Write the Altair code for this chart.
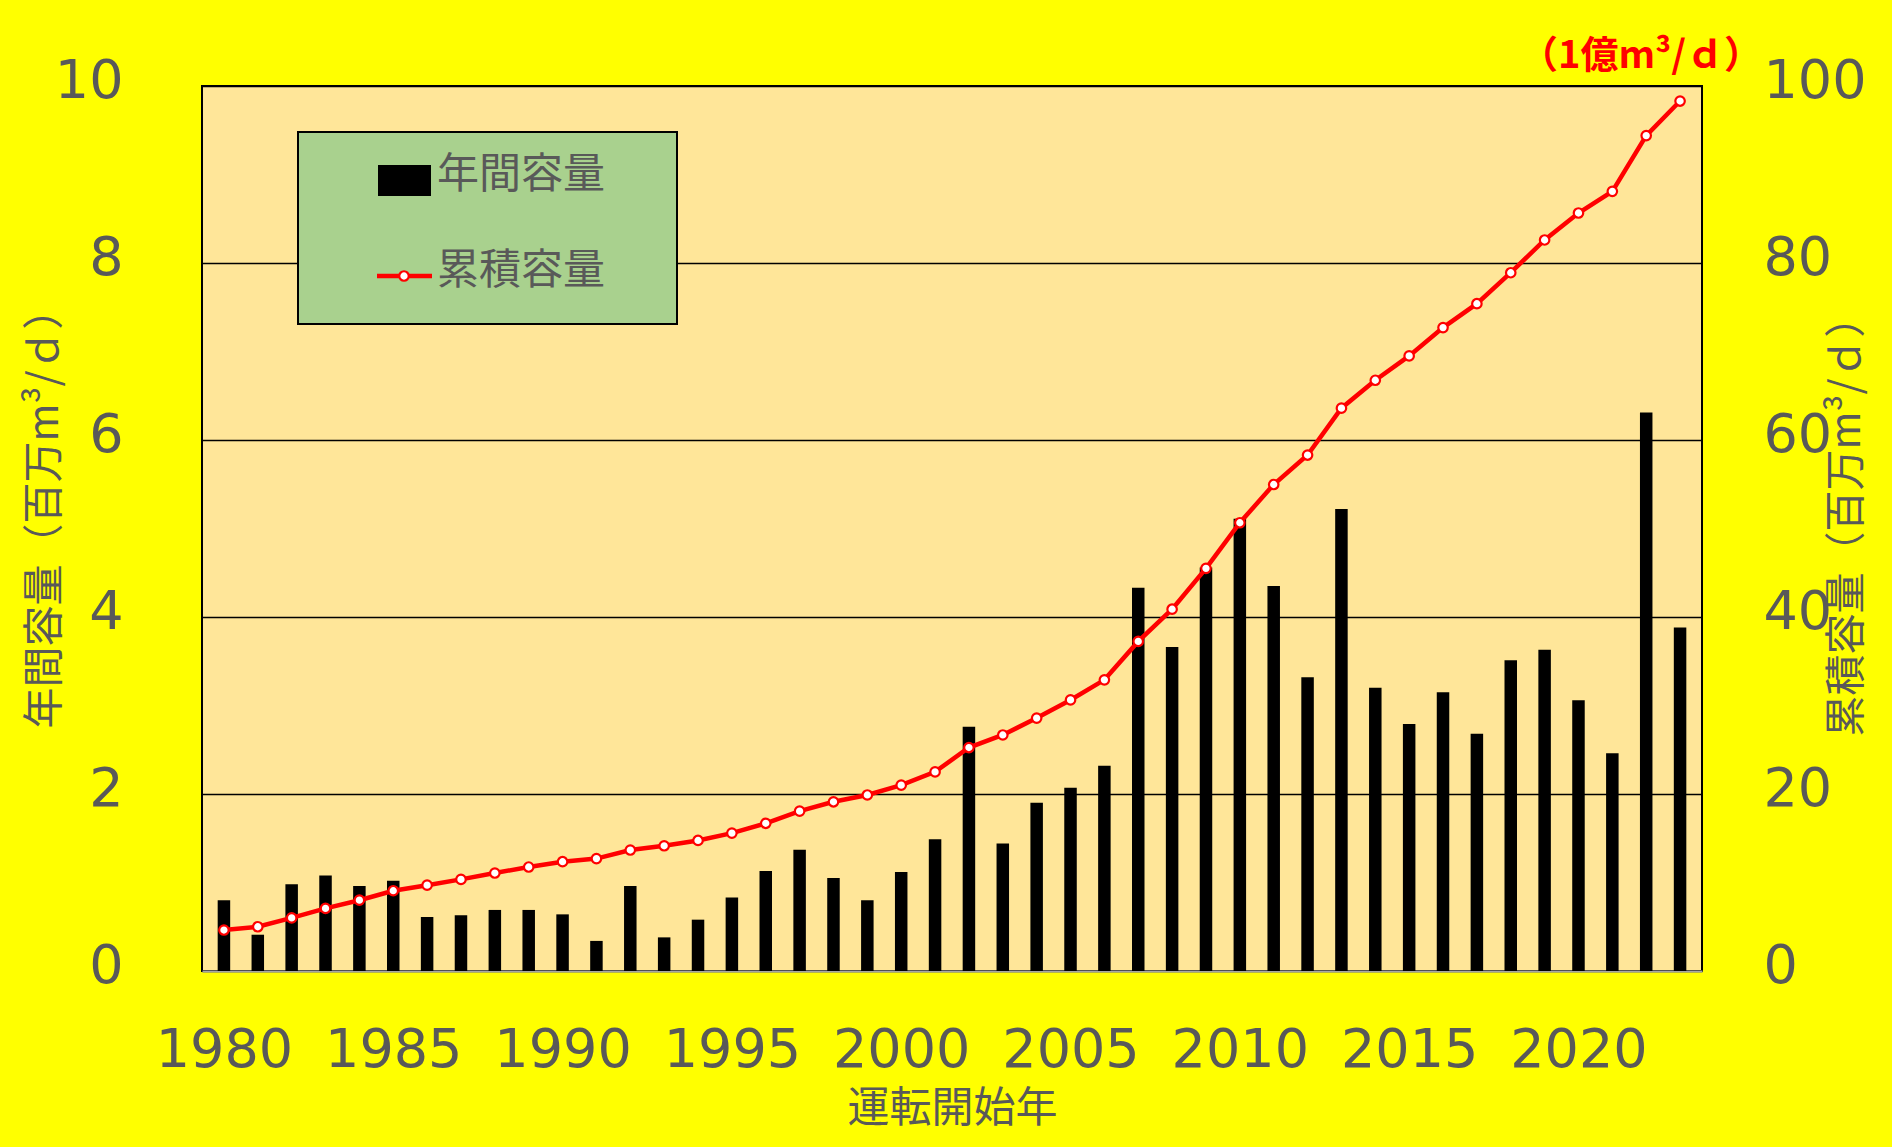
import altair as alt
import pandas as pd

years = list(range(1980, 2024))
annual = [0.80, 0.41, 0.98, 1.08, 0.96, 1.02, 0.61, 0.63, 0.69, 0.69,
          0.64, 0.34, 0.96, 0.38, 0.58, 0.83, 1.13, 1.37, 1.05, 0.80,
          1.12, 1.49, 2.76, 1.44, 1.90, 2.07, 2.32, 4.33, 3.66, 4.56,
          5.11, 4.35, 3.32, 5.22, 3.20, 2.79, 3.15, 2.68, 3.51, 3.63,
          3.06, 2.46, 6.31, 3.88]
cumulative = [4.63, 5.0, 6.0, 7.07, 8.0, 9.07, 9.7, 10.35, 11.07, 11.75,
              12.35, 12.7, 13.67, 14.15, 14.75, 15.58, 16.69, 18.06, 19.12, 19.89,
              21.0, 22.5, 25.25, 26.67, 28.58, 30.63, 32.9, 37.24, 40.88, 45.5,
              50.65, 54.97, 58.3, 63.6, 66.75, 69.5, 72.7, 75.4, 78.9, 82.6,
              85.65, 88.1, 94.4, 98.3]
x_ticks = [1980, 1985, 1990, 1995, 2000, 2005, 2010, 2015, 2020]
left_ticks = [0, 2, 4, 6, 8, 10]
right_ticks = [0, 20, 40, 60, 80, 100]
series_names = ["年間容量", "累積容量"]
x_title = "運転開始年"
left_title = "年間容量（百万m³/ｄ）"
right_title = "累積容量（百万m³/ｄ）"
note = "（1億m³/ｄ）"

df = pd.DataFrame({"year": years, "annual": annual, "cumulative": cumulative})
one = pd.DataFrame({"k": [0]})

GRAY = "#595959"
NUM_FONT = "DejaVu Sans"
CJK = "Noto Sans CJK JP"

xscale = alt.Scale(domain=[1979.5, 2023.5], nice=False, zero=False)

bars = alt.Chart(df).mark_bar(color="black", size=12.5).encode(
    x=alt.X("year:Q", scale=xscale,
            axis=alt.Axis(values=x_ticks, format="d", ticks=False, tickSize=0,
                          grid=False, domainColor="#A6A6A6", domainWidth=2,
                          labelFont=NUM_FONT, labelFontSize=54, labelColor=GRAY,
                          labelPadding=52, labelFlush=False,
                          title=x_title, titleFont=CJK, titleFontSize=42,
                          titleFontWeight="normal", titleColor=GRAY,
                          titleX=750, titleY=137, titleBaseline="middle")),
    y=alt.Y("annual:Q", scale=alt.Scale(domain=[0, 10], nice=False),
            axis=alt.Axis(values=left_ticks, grid=True, gridColor="black",
                          gridWidth=1.5, domain=False, ticks=False, tickSize=0,
                          labelFont=NUM_FONT, labelFontSize=54, labelColor=GRAY,
                          labelPadding=79, labelOffset=-5, labelBaseline="middle",
                          title=left_title, titleFont=CJK, titleFontSize=41,
                          titleFontWeight="normal", titleColor=GRAY,
                          titleAngle=270, titleX=-157, titleY=422,
                          titleBaseline="middle", titleAlign="center")),
)

line = alt.Chart(df).mark_line(
    color="red", strokeWidth=4.5,
    point=alt.OverlayMarkDef(filled=True, fill="white", stroke="red",
                             strokeWidth=2.2, size=90, shape="circle"),
).encode(
    x=alt.X("year:Q", scale=xscale),
    y=alt.Y("cumulative:Q", scale=alt.Scale(domain=[0, 100], nice=False),
            axis=alt.Axis(orient="right", values=right_ticks, grid=False,
                          domain=False, ticks=False, tickSize=0,
                          labelFont=NUM_FONT, labelFontSize=54, labelColor=GRAY,
                          labelPadding=61, labelOffset=-5, labelAlign="left",
                          labelBaseline="middle",
                          title=right_title, titleFont=CJK, titleFontSize=41,
                          titleFontWeight="normal", titleColor=GRAY,
                          titleAngle=270, titleX=145, titleY=430,
                          titleBaseline="middle", titleAlign="center")),
)

data_layers = alt.layer(bars, line).resolve_scale(y="independent")

legend_box = alt.Chart(one).mark_rect(fill="#A9D18E", stroke="black", strokeWidth=2).encode(
    x=alt.value(96), x2=alt.value(475), y=alt.value(46), y2=alt.value(238))
legend_sw1 = alt.Chart(one).mark_rect(color="black").encode(
    x=alt.value(176), x2=alt.value(229), y=alt.value(79), y2=alt.value(110))
legend_t1 = alt.Chart(one).mark_text(text=series_names[0], align="left", baseline="middle",
                                     font=CJK, fontSize=42, color=GRAY).encode(
    x=alt.value(235), y=alt.value(89))
legend_rule = alt.Chart(one).mark_rule(color="red", strokeWidth=4.5).encode(
    x=alt.value(175), x2=alt.value(230), y=alt.value(190))
legend_pt = alt.Chart(one).mark_point(filled=True, fill="white", stroke="red", strokeWidth=2.2,
                                      size=90, shape="circle", opacity=1).encode(
    x=alt.value(202), y=alt.value(190))
legend_t2 = alt.Chart(one).mark_text(text=series_names[1], align="left", baseline="middle",
                                     font=CJK, fontSize=42, color=GRAY).encode(
    x=alt.value(235), y=alt.value(185))
note_text = alt.Chart(one).mark_text(text=note, align="center", baseline="middle",
                                     font=CJK, fontSize=38, fontWeight="bold",
                                     color="#FF0000").encode(
    x=alt.value(1439), y=alt.value(-29))

chart = alt.layer(
    data_layers, legend_box, legend_sw1, legend_t1, legend_rule, legend_pt, legend_t2, note_text
).properties(
    width=1500, height=885,
    padding={"left": 202, "top": 86, "right": 190, "bottom": 176},
    autosize=alt.AutoSizeParams(type="none"),
).configure(
    background="#FFFF00",
).configure_view(
    fill="#FFE699", stroke="black", strokeWidth=2,
)

chart.save("out.html", embed_options={"renderer": "svg", "actions": False})
